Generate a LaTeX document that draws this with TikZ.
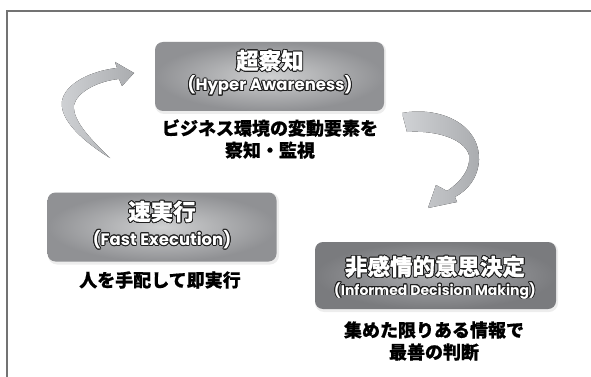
\documentclass[tikz,border=0pt]{standalone}
\usepackage{fontspec}
\newfontfamily\jp{Noto Sans CJK JP}[BoldFeatures={FakeBold=0.6}]
\newfontfamily\rnd{Poppins}
\usepackage{contour}
\contourlength{0.9pt}
\contournumber{16}
\definecolor{framegray}{HTML}{737373}
\definecolor{boxin}{HTML}{CFD0D1}
\definecolor{boxout}{HTML}{909194}
\definecolor{boxinD}{HTML}{ACADB0}
\definecolor{boxoutD}{HTML}{7A7B7E}
\definecolor{arrA}{HTML}{D0D2D5}
\definecolor{arrB}{HTML}{AAACAF}
\definecolor{outl}{HTML}{1E1E1E}
\begin{document}
\begin{tikzpicture}[x=1pt,y=-1pt,
  stagebox/.style={rounded corners=8pt, inner sep=0pt, inner color=boxin, outer color=boxout},
  shadowbox/.style={rounded corners=9pt, fill=black, opacity=0.07, inner sep=0pt},
  titlejp/.style={inner sep=0pt, font=\jp\bfseries\fontsize{22.5}{24}\selectfont, text=white},
  titlela/.style={inner sep=0pt, font=\rnd\bfseries\fontsize{16.5}{19}\selectfont, text=white},
  bodytext/.style={inner sep=0pt, align=center, font=\jp\bfseries\fontsize{18}{22}\selectfont, text=black},
  arrowshape/.style={left color=arrA, right color=arrB, draw=none}
]
\useasboundingbox (0,0) rectangle (591,377);
\fill[white] (0,0) rectangle (591,377);
% frame
\coordinate (fbl) at (7,377);
\coordinate (ftl) at (7,11);
\coordinate (ftr) at (591,11);
\draw[framegray, line width=1.5pt] (fbl) -- (ftl) -- (ftr);

% boxes
\node[shadowbox, minimum width=231pt, minimum height=72pt] at (270.5,78) {};
\node[stagebox, minimum width=229pt, minimum height=69pt] (hyper) at (269.5,76.5) {};
\node[shadowbox, minimum width=231pt, minimum height=72pt] at (163.5,228.5) {};
\node[stagebox, minimum width=229pt, minimum height=69pt] (fast) at (162,227) {};
\node[shadowbox, minimum width=243pt, minimum height=70pt] at (436.5,277) {};
\node[stagebox, inner color=boxinD, outer color=boxoutD, minimum width=241pt, minimum height=67pt] (informed) at (435.5,275.5) {};

% titles
\node[titlejp] (hyperjp) at (270,61) {\contour{outl}{超察知}};
\node[titlela] (hyperen) at (270,86) {\contour{outl}{(Hyper Awareness)}};
\node[titlejp] (fastjp) at (162,212) {\contour{outl}{速実行}};
\node[titlela] (fasten) at (162,240) {\contour{outl}{(Fast Execution)}};
\node[titlejp] (infjp) at (435,267) {\contour{outl}{非感情的意思決定}};
\node[titlela, font=\rnd\bfseries\fontsize{14}{16}\selectfont] (infen) at (435,291) {\contour{outl}{(Informed Decision Making)}};

% body texts
\node[bodytext] (hyperbody) at (270,139) {ビジネス環境の変動要素を\\察知・監視};
\node[bodytext] (fastbody) at (160,280) {人を手配して即実行};
\node[bodytext] (infbody) at (434,341) {集めた限りある情報で\\最善の判断};

% left curved arrow (from fast execution up to hyper awareness)
\fill[arrowshape] (110,158)
  .. controls (84,142) and (59,120) .. (62,101)
  .. controls (65,84) and (90,71) .. (117,68)
  -- (115,62) -- (134,73) -- (122,86) -- (119,79)
  .. controls (98,81) and (77,92) .. (74,105)
  .. controls (72,122) and (95,143) .. (110,158) -- cycle;

% right curved arrow (from hyper awareness down to informed decision)
\fill[arrowshape] (402,113)
  .. controls (440,106) and (480,124) .. (479,160)
  .. controls (478,178) and (468,190) .. (455,197)
  -- (457,202) -- (428,208) -- (436,185) -- (447,191)
  .. controls (462,181) and (471,168) .. (469,155)
  .. controls (464,138) and (434,130) .. (407,132) -- cycle;
\end{tikzpicture}
\end{document}
